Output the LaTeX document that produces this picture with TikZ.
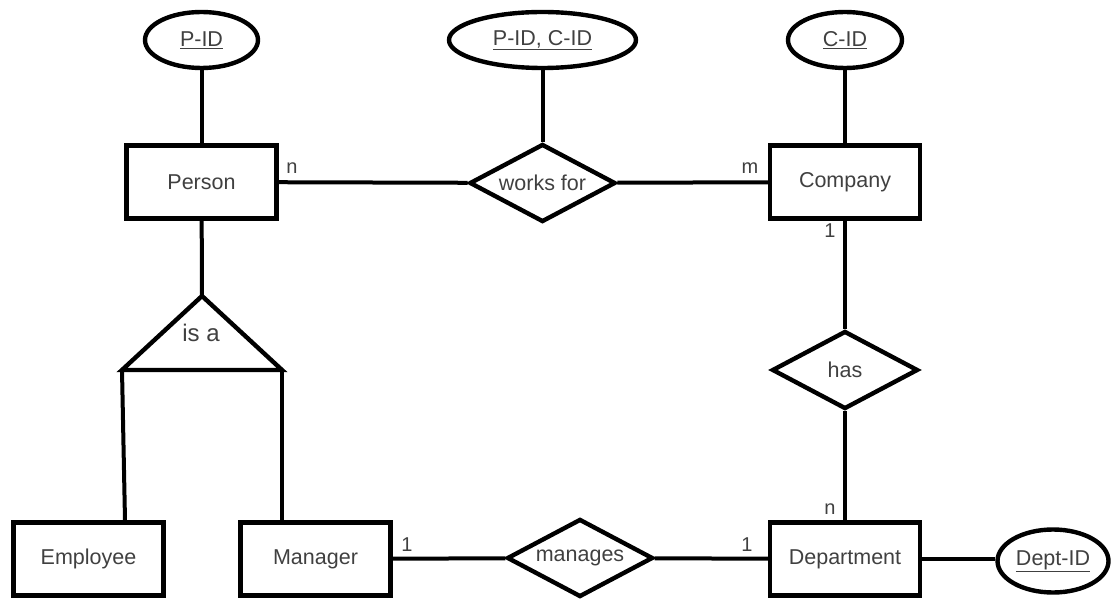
\documentclass[tikz,border=0pt]{standalone}
\usepackage{fontspec}
\setmainfont{Liberation Sans}
\usetikzlibrary{shapes.geometric}
\begin{document}
\begin{tikzpicture}[x=1pt,y=-1pt,
  er/.style={draw=black, line width=4.4pt, text=black!75, font=\fontsize{21.5}{24}\selectfont, inner sep=0pt},
  entity/.style={er, rectangle, minimum width=150pt, minimum height=73pt},
  attr/.style={er, ellipse, minimum height=56pt},
  rel/.style={er, diamond, aspect=2, minimum width=146pt, minimum height=78pt},
  conn/.style={line width=4pt},
  card/.style={text=black!75, font=\fontsize{20}{22}\selectfont, inner sep=0pt}
]
\useasboundingbox (0,0) rectangle (1113,601);

% attributes
\node[attr, minimum width=113pt] (pid) at (201.5,40) {\underline{P-ID}};
\node[attr, minimum width=187pt] (wfid) at (542.5,40) {\underline{P-ID, C-ID}};
\node[attr, minimum width=114pt] (cid) at (845,40) {\underline{C-ID}};
\node[attr, minimum width=111pt, minimum height=63pt] (deptid) at (1053,561) {\underline{Dept-ID}};

% entities
\node[entity] (person) at (201.5,182) {Person};
\node[entity] (company) at (845,182) {Company};
\node[entity] (department) at (845,559) {Department};
\node[entity] (employee) at (88.5,559) {Employee};
\node[entity] (manager) at (315.5,559) {Manager};

% relationships
\node[rel] (works) at (542.5,183) {works for};
\node[rel] (has) at (845,370) {has};
\node[rel] (manages) at (580,558) {manages};

% is-a triangle
\coordinate (apex) at (202,296);
\coordinate (tl) at (122,370);
\coordinate (tr) at (282,370);
\draw[line width=4.4pt, line join=miter] (apex) -- (tl) -- (tr) -- cycle;
\node[text=black!75, font=\fontsize{24}{26}\selectfont, inner sep=0pt] (isa) at (201,333) {is a};

% connectors
\draw[conn] (pid) -- (person);
\draw[conn] (wfid) -- (works);
\draw[conn] (cid) -- (company);
\draw[conn] (person) -- (works);
\draw[conn] (works) -- (company);
\draw[conn] (company) -- (has);
\draw[conn] (has) -- (department);
\draw[conn] (department.east) -- (department.east -| deptid.west);
\draw[conn] (manager) -- (manages);
\draw[conn] (manages) -- (department);
\draw[conn] (person) -- (apex);
\draw[conn] (tl) -- ([xshift=36.5pt]employee.north);
\draw[conn] (tr) -- (tr |- manager.north);

% cardinalities
\node[card] (c1) at (292,168) {n};
\node[card] (c2) at (750,168) {m};
\node[card] (c3) at (830,231) {1};
\node[card] (c4) at (830,509) {n};
\node[card] (c5) at (407,545) {1};
\node[card] (c6) at (747,545) {1};
\end{tikzpicture}
\end{document}
